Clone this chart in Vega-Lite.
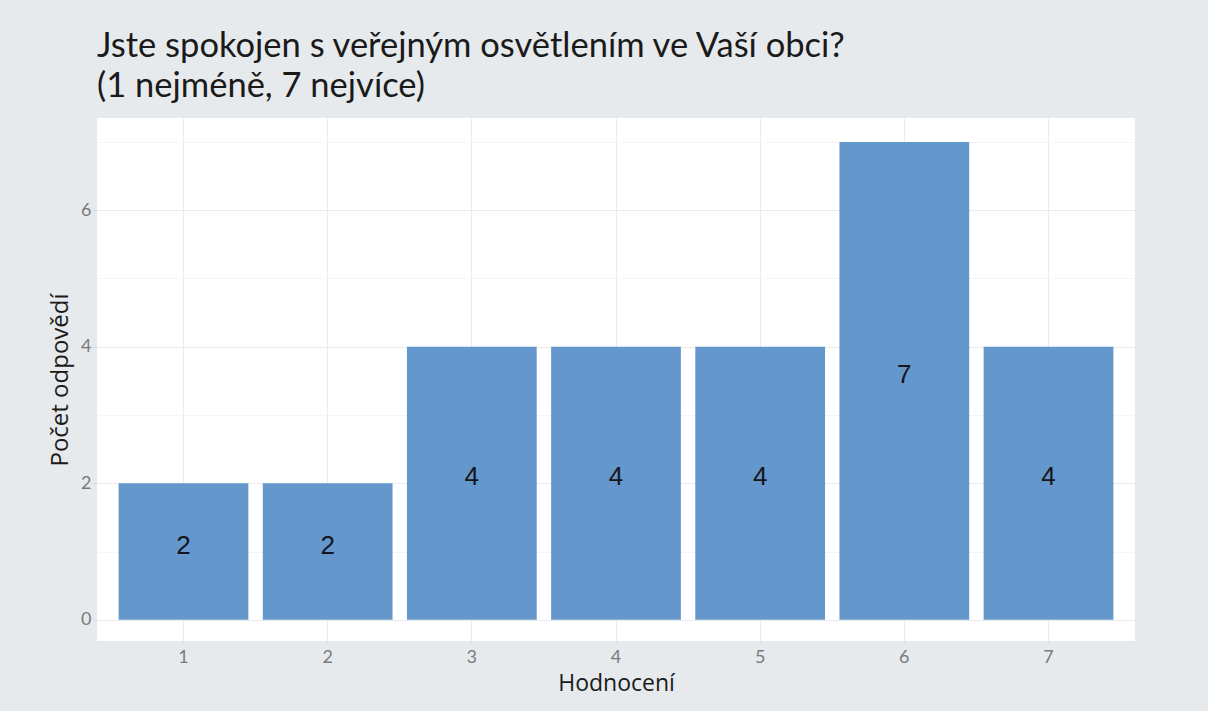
{
  "$schema": "https://vega.github.io/schema/vega-lite/v6.json",
  "width": 1038,
  "height": 523,
  "autosize": {"type": "none"},
  "padding": {"left": 97, "top": 118, "right": 73, "bottom": 70},
  "background": "#e6eaed",
  "config": {"view": {"fill": "white", "stroke": null}, "font": "Lato"},
  "title": {
    "text": ["Jste spokojen s veřejným osvětlením ve Vaší obci?", "(1 nejméně, 7 nejvíce)"],
    "anchor": "start",
    "frame": "group",
    "fontSize": 34.5,
    "fontWeight": "normal",
    "color": "#1a1a1a",
    "lineHeight": 40,
    "offset": 14,
    "font": "Lato"
  },
  "data": {
    "values": [
      {"hodnoceni": "1", "pocet": 2},
      {"hodnoceni": "2", "pocet": 2},
      {"hodnoceni": "3", "pocet": 4},
      {"hodnoceni": "4", "pocet": 4},
      {"hodnoceni": "5", "pocet": 4},
      {"hodnoceni": "6", "pocet": 7},
      {"hodnoceni": "7", "pocet": 4}
    ]
  },
  "encoding": {
    "x": {
      "field": "hodnoceni",
      "type": "ordinal",
      "scale": {"paddingInner": 0.1, "paddingOuter": 0.15},
      "axis": {
        "title": "Hodnocení",
        "titleFont": "Open Sans",
        "titleFontSize": 23,
        "titleFontWeight": "normal",
        "titleColor": "#1a1a1a",
        "titlePadding": 6,
        "labelAngle": 0,
        "labelFontSize": 18,
        "labelColor": "#7a7a7a",
        "labelPadding": 4,
        "domain": false,
        "ticks": true,
        "tickSize": 3,
        "tickColor": "#e0e0e0",
        "grid": true,
        "gridColor": "#ebebeb",
        "bandPosition": 0.5
      }
    }
  },
  "layer": [
    {
      "mark": {"type": "bar", "color": "#6497cb"},
      "encoding": {
        "y": {
          "field": "pocet",
          "type": "quantitative",
          "scale": {"domain": [-0.31, 7.35], "nice": false, "zero": false},
          "axis": {
            "title": "Počet odpovědí",
            "titleFont": "Open Sans",
            "titleFontSize": 24,
            "titleFontWeight": "normal",
            "titleColor": "#1a1a1a",
            "titlePadding": 8,
            "values": [0, 1, 2, 3, 4, 5, 6, 7],
            "labelExpr": "datum.value % 2 === 0 ? datum.label : ''",
            "labelFontSize": 18,
            "labelColor": "#7a7a7a",
            "labelPadding": 2,
            "domain": false,
            "tickSize": 4,
            "tickColor": {"condition": {"test": "datum.value % 2 === 0", "value": "#d9d9d9"}, "value": "transparent"},
            "grid": true,
            "gridColor": {"condition": {"test": "datum.value % 2 === 0", "value": "#ebebeb"}, "value": "#f5f5f5"}
          }
        }
      }
    },
    {
      "mark": {"type": "text", "fontSize": 26, "font": "Liberation Sans", "color": "#151520", "baseline": "middle", "dy": -6},
      "encoding": {
        "y": {
          "field": "pocet",
          "type": "quantitative",
          "scale": {"domain": [-0.62, 14.7], "nice": false, "zero": false},
          "axis": null
        },
        "text": {"field": "pocet", "type": "quantitative"}
      }
    }
  ],
  "resolve": {"scale": {"y": "independent"}}
}
